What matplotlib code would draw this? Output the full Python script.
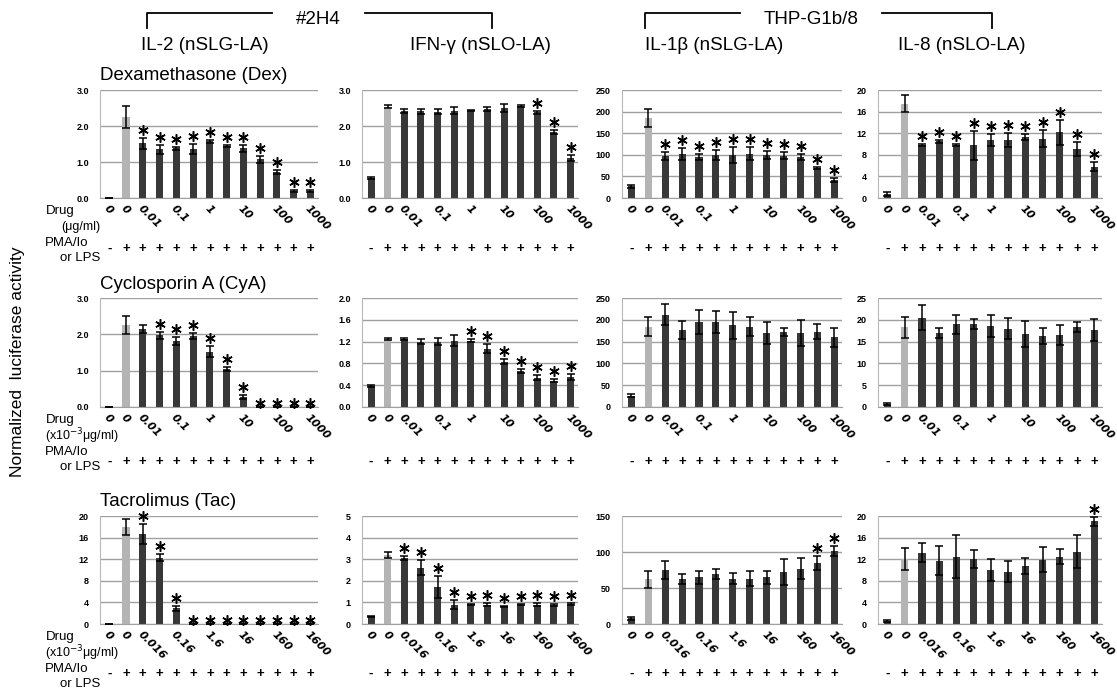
import numpy as np
import matplotlib
matplotlib.use('Agg')
import matplotlib.pyplot as plt

plt.rcParams['font.family'] = ['Liberation Sans', 'DejaVu Sans']

W, H = 1117, 694

# --- Data ---
# bar 0 = unstimulated, bar 1 = stimulated w/o drug, bars 2-12 = drug doses
dex_labels = ['0', '0', '0.01', '', '0.1', '', '1', '', '10', '', '100', '', '1000']
tac_labels = ['0', '0', '0.016', '', '0.16', '', '1.6', '', '16', '', '160', '', '1600']
stim_signs = ['-'] + ['+'] * 12

dex_il2_mean = [0.0, 2.25, 1.52, 1.35, 1.38, 1.36, 1.57, 1.45, 1.38, 1.07, 0.72, 0.2, 0.2]
dex_il2_err = [0, 0.3, 0.15, 0.12, 0.05, 0.15, 0.05, 0.03, 0.1, 0.09, 0.05, 0.03, 0.03]
dex_il2_star = [2, 3, 4, 5, 6, 7, 8, 9, 10, 11, 12]

dex_ifng_mean = [0.55, 2.54, 2.41, 2.41, 2.4, 2.42, 2.43, 2.47, 2.5, 2.55, 2.38, 1.83, 1.12]
dex_ifng_err = [0.03, 0.04, 0.06, 0.07, 0.08, 0.1, 0.02, 0.06, 0.1, 0.03, 0.04, 0.05, 0.08]
dex_ifng_star = [10, 11, 12]

dex_il1b_mean = [27, 185, 97, 102, 95, 99, 100, 103, 100, 98, 95, 70, 42]
dex_il1b_err = [3, 21, 10, 13, 7, 12, 18, 15, 9, 8, 7, 2, 4]
dex_il1b_star = [2, 3, 4, 5, 6, 7, 8, 9, 10, 11, 12]

dex_il8_mean = [0.8, 17.5, 9.8, 10.5, 9.8, 9.8, 10.8, 10.7, 11.3, 11.0, 12.2, 9.0, 5.8]
dex_il8_err = [0.4, 1.5, 0.2, 0.3, 0.2, 2.7, 1.1, 1.3, 0.6, 1.6, 2.3, 1.3, 0.8]
dex_il8_star = [2, 3, 4, 5, 6, 7, 8, 9, 10, 11, 12]

cya_il2_mean = [0, 2.25, 2.15, 1.97, 1.82, 1.95, 1.52, 1.05, 0.27, 0, 0, 0, 0]
cya_il2_err = [0, 0.25, 0.12, 0.1, 0.1, 0.08, 0.15, 0.05, 0.06, 0, 0, 0, 0]
cya_il2_star = [3, 4, 5, 6, 7, 8, 9, 10, 11, 12]

cya_ifng_mean = [0.38, 1.25, 1.25, 1.2, 1.2, 1.22, 1.22, 1.07, 0.83, 0.66, 0.54, 0.48, 0.55]
cya_ifng_err = [0.02, 0.02, 0.02, 0.05, 0.06, 0.1, 0.03, 0.08, 0.05, 0.04, 0.05, 0.03, 0.05]
cya_ifng_star = [6, 7, 8, 9, 10, 11, 12]

cya_il1b_mean = [26, 184, 212, 177, 195, 195, 187, 184, 170, 172, 170, 173, 160]
cya_il1b_err = [3, 22, 25, 20, 28, 25, 32, 22, 25, 10, 30, 17, 22]
cya_il1b_star = []

cya_il8_mean = [0.7, 18.3, 20.5, 17.0, 19.0, 19.0, 18.5, 18.0, 16.7, 16.3, 16.5, 18.3, 17.7]
cya_il8_err = [0.2, 2.4, 2.9, 1.2, 2.2, 1.2, 2.5, 2.5, 3.0, 1.9, 2.3, 1.2, 2.5]
cya_il8_star = []

tac_il2_mean = [0, 18, 16.7, 12.3, 2.9, 0, 0, 0, 0, 0, 0, 0, 0]
tac_il2_err = [0, 1.5, 1.8, 0.7, 0.4, 0, 0, 0, 0, 0, 0, 0, 0]
tac_il2_star = [2, 3, 4, 5, 6, 7, 8, 9, 10, 11, 12]

tac_ifng_mean = [0.35, 3.2, 3.05, 2.6, 1.7, 0.9, 0.9, 0.9, 0.82, 0.9, 0.9, 0.88, 0.92]
tac_ifng_err = [0.03, 0.15, 0.1, 0.35, 0.5, 0.2, 0.03, 0.05, 0.03, 0.03, 0.05, 0.03, 0.05]
tac_ifng_star = [2, 3, 4, 5, 6, 7, 8, 9, 10, 11, 12]

tac_il1b_mean = [8, 62, 75, 62, 65, 69, 63, 63, 65, 72, 77, 85, 101]
tac_il1b_err = [2, 12, 13, 7, 9, 7, 8, 10, 9, 18, 15, 10, 7]
tac_il1b_star = [11, 12]

tac_il8_mean = [0.5, 12, 13.2, 11.7, 12.5, 12, 10, 9.7, 10.8, 11.9, 12.5, 13.4, 19]
tac_il8_err = [0.2, 2, 1.8, 2.7, 3.9, 1.7, 2, 2, 1.5, 2.3, 1.3, 3, 0.9]
tac_il8_star = [12]

col_titles = ['IL-2 (nSLG-LA)', 'IFN-γ (nSLO-LA)', 'IL-1β (nSLG-LA)', 'IL-8 (nSLO-LA)']
row_titles = ['Dexamethasone (Dex)', 'Cyclosporin A (CyA)', 'Tacrolimus (Tac)']
unit_labels = ['(μg/ml)', '(x10$^{-3}$μg/ml)', '(x10$^{-3}$μg/ml)']

rows = [
    [(dex_il2_mean, dex_il2_err, dex_il2_star), (dex_ifng_mean, dex_ifng_err, dex_ifng_star),
     (dex_il1b_mean, dex_il1b_err, dex_il1b_star), (dex_il8_mean, dex_il8_err, dex_il8_star)],
    [(cya_il2_mean, cya_il2_err, cya_il2_star), (cya_ifng_mean, cya_ifng_err, cya_ifng_star),
     (cya_il1b_mean, cya_il1b_err, cya_il1b_star), (cya_il8_mean, cya_il8_err, cya_il8_star)],
    [(tac_il2_mean, tac_il2_err, tac_il2_star), (tac_ifng_mean, tac_ifng_err, tac_ifng_star),
     (tac_il1b_mean, tac_il1b_err, tac_il1b_star), (tac_il8_mean, tac_il8_err, tac_il8_star)],
]
row_xlabels = [dex_labels, dex_labels, tac_labels]

# axis scales per panel: (ymax, step, format)
scales = [
    [(3, 1, '%.1f'), (3, 1, '%.1f'), (250, 50, '%d'), (20, 4, '%d')],
    [(3, 1, '%.1f'), (2, 0.4, '%.1f'), (250, 50, '%d'), (25, 5, '%d')],
    [(20, 4, '%d'), (5, 1, '%d'), (150, 50, '%d'), (20, 4, '%d')],
]

# --- Layout in pixels ---
COLS = [(100, 318), (362, 578), (622, 842), (878, 1102)]
ROWS = [(90, 198), (298, 407), (516, 624)]
SIGN_OFF = [51, 55, 50]

DARK = '#383838'
LIGHT = '#b4b4b4'
GRID = '#a0a0a0'


def fx(x):
    return x / W


def fy(y):
    return 1 - y / H


fig = plt.figure(figsize=(W / 100, H / 100), dpi=100)

x = np.arange(13)
colors = [DARK, LIGHT] + [DARK] * 11

for r, (top, bot) in enumerate(ROWS):
    h_px = bot - top
    for c, (left, right) in enumerate(COLS):
        mean, err, stars = rows[r][c]
        ymax, step, fmt = scales[r][c]
        ax = fig.add_axes([fx(left), fy(bot), (right - left) / W, h_px / H])
        ax.set_axisbelow(True)
        ax.bar(x, mean, width=0.42, color=colors, zorder=2)
        ax.errorbar(x, mean, yerr=err, fmt='none', ecolor='black',
                    elinewidth=1.1, capsize=3, capthick=1.1, zorder=3)
        px = ymax / h_px
        for i in stars:
            topv = mean[i] + err[i]
            off = 8 if topv > 0.03 * ymax else 4
            ax.plot(i, topv + off * px, marker=(6, 2, 0), markersize=7.5,
                    color='black', mew=1.1, zorder=4, clip_on=False)
        ax.set_xlim(-0.55, 12.45)
        ax.set_ylim(0, ymax)
        ticks = np.arange(0, ymax + step / 2, step)
        ax.set_yticks(ticks)
        ax.set_yticklabels([fmt % t for t in ticks], fontsize=6.5, fontweight='bold')
        ax.tick_params(axis='y', length=0, pad=8)
        ax.set_xticks([])
        ax.grid(axis='y', color=GRID, linewidth=1)
        for s in ['top', 'right']:
            ax.spines[s].set_visible(False)
        ax.spines['left'].set_color('#b8b8b8')
        ax.spines['bottom'].set_color(GRID)

        tr = ax.get_xaxis_transform()
        for i, lab in enumerate(row_xlabels[r]):
            if lab:
                ax.text(i - 0.2, -9 / h_px, lab, transform=tr, rotation=-45,
                        rotation_mode='anchor', ha='left', va='center',
                        fontsize=8, fontstyle='italic', fontweight='bold',
                        family='DejaVu Sans')
        for i, s in enumerate(stim_signs):
            ax.text(i, -SIGN_OFF[r] / h_px, s, transform=tr, ha='center',
                    va='center', fontsize=9.5, fontweight='bold')

    # row title and left labels
    fig.text(fx(100), fy(top - 14), row_titles[r], fontsize=13.5, ha='left', va='center')
    fig.text(fx(46), fy(bot + 13), 'Drug', fontsize=9.5, ha='left', va='center')
    fig.text(fx(100) if r == 0 else fx(45), fy(bot + 29), unit_labels[r], fontsize=9,
             ha='right' if r == 0 else 'left', va='center')
    fig.text(fx(45), fy(bot + 45), 'PMA/Io', fontsize=9.5, ha='left', va='center')
    fig.text(fx(100), fy(bot + 60), 'or LPS', fontsize=9.5, ha='right', va='center')

# column titles
for (left, right), t, cx in zip(COLS, col_titles, [205, 480, 714, 962]):
    fig.text(fx(cx), fy(45), t, fontsize=13.5, ha='center', va='center')

# cell line brackets
for x0, x1, g0, g1, name in [(147, 492, 272, 365, '#2H4'), (645, 992, 740, 882, 'THP-G1b/8')]:
    fig.add_artist(plt.Line2D([fx(x0), fx(x0), fx(g0)], [fy(28), fy(13), fy(13)],
                              color='black', lw=1.3))
    fig.add_artist(plt.Line2D([fx(g1), fx(x1), fx(x1)], [fy(13), fy(13), fy(28)],
                              color='black', lw=1.3))
    fig.text(fx((g0 + g1) / 2), fy(19), name, fontsize=13.5, ha='center', va='center')

fig.text(fx(18), fy(362), 'Normalized  luciferase activity', fontsize=12.5,
         rotation=90, ha='center', va='center')

fig.savefig('out.png', dpi=100)
